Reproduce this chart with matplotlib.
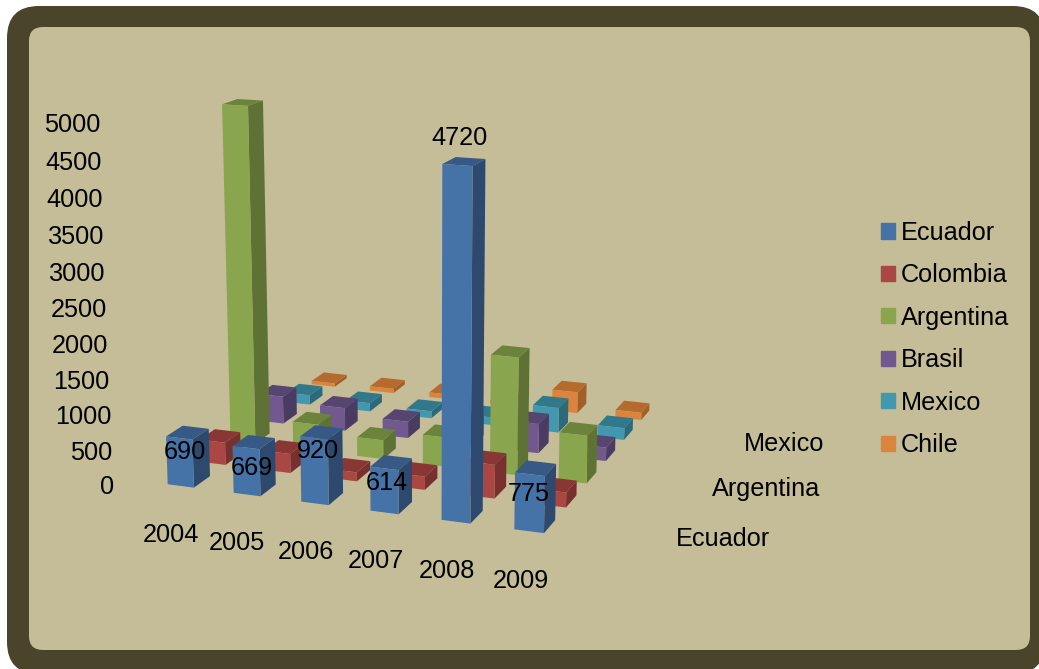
import numpy as np
import matplotlib
matplotlib.use("Agg")
import matplotlib.pyplot as plt
from matplotlib.patches import FancyBboxPatch, Patch
from matplotlib.transforms import IdentityTransform
from mpl_toolkits.mplot3d import Axes3D  # noqa

plt.rcParams['font.family'] = ['Liberation Sans', 'DejaVu Sans']

years = ['2004', '2005', '2006', '2007', '2008', '2009']
countries = ['Ecuador', 'Colombia', 'Argentina', 'Brasil', 'Mexico', 'Chile']
ecuador = [690, 669, 920, 614, 4720, 775]
colombia = [330, 280, 130, 190, 480, 210]
argentina = [4950, 400, 280, 430, 1700, 690]
brasil = [420, 350, 250, 300, 440, 200]
mexico = [150, 130, 110, 120, 380, 180]
chile = [55, 70, 75, 50, 330, 115]
series = [ecuador, colombia, argentina, brasil, mexico, chile]

front_cols = ['#4573A7', '#AA4643', '#89A54E', '#71588F', '#4198AF', '#DB843D']
top_cols = ['#365A85', '#883735', '#6C833C', '#584470', '#31788B', '#B56B2E']
side_cols = ['#2D4A6E', '#77302E', '#5F7235', '#4C3B61', '#2B6A7B', '#A35F28']

z_ticks = list(range(0, 5001, 500))
y_labels = {0: 'Ecuador', 2: 'Argentina', 4: 'Mexico'}
label_px = [(185, 452), (252, 468), (318, 451), (387, 483), (460, 138), (529, 494)]

W, H = 1039, 669
NX, NY, ZMAX = 7, 6, 5000
# axis-box calibration: box corner -> pixel of the reference
box = np.array([(0, 0, 0), (NX, 0, 0), (NX, NY, 0), (0, NY, 0),
                (0, 0, ZMAX), (0, NY, ZMAX), (NX, NY, ZMAX)], float)
px = np.array([(138, 487), (635, 553), (735, 414), (311, 370),
               (124, 125), (307, 64), (748, 87)], float)
A, b = [], []
for (x, y, z), (u, v) in zip(box, px):
    v = H - v
    A.append([x, y, z, 1, 0, 0, 0, 0, -u * x, -u * y, -u * z]); b.append(u)
    A.append([0, 0, 0, 0, x, y, z, 1, -v * x, -v * y, -v * z]); b.append(v)
p = np.linalg.lstsq(np.array(A), np.array(b), rcond=None)[0]
P = np.append(p, 1).reshape(3, 4)
M = np.vstack([P[0], P[1], [0, 1, 0, 0], P[2]])


def project(x, y, z):
    q = P @ np.array([x, y, z, 1.0])
    return q[0] / q[2], q[1] / q[2]


fig = plt.figure(figsize=(W / 100, H / 100), dpi=100, facecolor='white')
fig.add_artist(FancyBboxPatch((7 + 32, -5 + 32), 1045 - 7 - 64, H - 6 + 5 - 64,
                              boxstyle='round,pad=32,rounding_size=32', fc='#4A442A', ec='none',
                              transform=IdentityTransform(), zorder=-5))
fig.add_artist(FancyBboxPatch((29 + 14, H - 650 + 14), 1001 - 28, 623 - 28,
                              boxstyle='round,pad=14,rounding_size=14', fc='#C4BD97', ec='none',
                              transform=IdentityTransform(), zorder=-4))

ax = fig.add_axes([0, 0, 1, 1], projection='3d', computed_zorder=False)
ax.transData = IdentityTransform()
ax.get_proj = lambda: M
ax.apply_aspect = lambda position=None: None
ax.set_axis_off()
ax.patch.set_visible(False)

gc = '#8B8F9C'
glw = 1.1
for z in z_ticks:
    ax.plot([0, 0, NX], [0, NY, NY], [z, z, z], color=gc, lw=glw, zorder=1)
    ax.plot([0, -0.12], [0, 0], [z, z], color=gc, lw=glw, zorder=1)
ax.plot([0, 0], [0, 0], [0, ZMAX], color=gc, lw=glw, zorder=1)
ax.plot([NX, NX], [0, NY], [0, 0], color=gc, lw=glw, zorder=1)
for i in range(NX + 1):
    ax.plot([i, i + 0.07], [0, -0.25], [0, 0], color=gc, lw=glw, zorder=1)
for j in range(NY + 1):
    ax.plot([NX, NX + 0.1], [j, j], [0, 0], color=gc, lw=glw, zorder=1)

bar_w, bar_d = 0.40, 0.50
for row in range(len(countries) - 1, -1, -1):
    for i, val in enumerate(series[row]):
        faces = [(0, 0, 0, 0), matplotlib.colors.to_rgba(top_cols[row]),
                 matplotlib.colors.to_rgba(front_cols[row]), (0, 0, 0, 0),
                 (0, 0, 0, 0), matplotlib.colors.to_rgba(side_cols[row])]
        c = ax.bar3d(i + 0.33, row + 0.25, 0, bar_w, bar_d, val, color=faces,
                     shade=False, edgecolor='none', linewidth=0)
        c.set_zorder(10 + (len(countries) - row) * 10 + i)

fs = 18.2
for z in z_ticks:
    u, v = project(0, 0, z)
    fig.text((u - 24) / W, v / H, str(z), ha='right', va='center', fontsize=fs, color='black')
for i, yr in enumerate(years):
    u, v = project(i + 0.5, 0, 0)
    fig.text(u / W, (v - 43) / H, yr, ha='center', va='center', fontsize=fs, color='black')
for j, name in y_labels.items():
    u, v = project(NX, j + 0.5, 0)
    fig.text((u + 31) / W, v / H, name, ha='left', va='center', fontsize=fs, color='black')
for val, (u, v) in zip(ecuador, label_px):
    fig.text(u / W, (H - v) / H, str(val), ha='center', va='center', fontsize=fs, color='black', zorder=50)

handles = [Patch(color=c, label=n) for c, n in zip(front_cols, countries)]
fig.legend(handles=handles, loc='center left', bbox_to_anchor=(881 / W, (H - 339) / H), frameon=False,
           fontsize=fs, handlelength=0.55, handleheight=0.55, handletextpad=0.25,
           labelspacing=0.73, borderpad=0, borderaxespad=0)

fig.savefig('out.png', dpi=100, facecolor='white')
